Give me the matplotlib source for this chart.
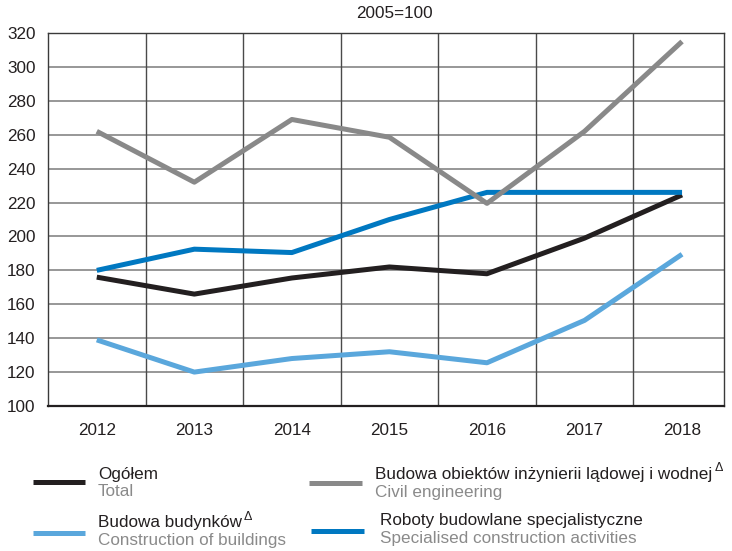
import matplotlib.pyplot as plt
from matplotlib.lines import Line2D

plt.rcParams['font.family'] = ['Liberation Sans', 'DejaVu Sans']

years = ['2012', '2013', '2014', '2015', '2016', '2017', '2018']
total = [176, 166, 175.5, 182, 178, 199, 224.5]
civil = [262, 232, 269, 258.5, 219.5, 262, 315]
buildings = [139, 120, 128, 132, 125.5, 150.5, 189.5]
specialised = [180, 192.5, 190.5, 210, 226, 226, 226]

yticks = list(range(100, 321, 20))

c_total = '#231f20'
c_civil = '#898989'
c_build = '#5aa7dc'
c_spec = '#0078c1'

FS = 12.3

fig = plt.figure(figsize=(7.32, 5.51), dpi=100)
ax = fig.add_axes([48 / 732, 1 - 406 / 551, 676 / 732, 373 / 551])

x = list(range(len(years)))
# series drawn back to front
ax.plot(x, total, color=c_total, lw=3.6, solid_capstyle='butt', zorder=3)
ax.plot(x, specialised, color=c_spec, lw=3.6, solid_capstyle='butt', zorder=3)
ax.plot(x, civil, color=c_civil, lw=3.6, solid_capstyle='butt', zorder=4)
ax.plot(x, buildings, color=c_build, lw=3.6, solid_capstyle='butt', zorder=3)

ax.set_xlim(-0.5, 6.43)
ax.set_ylim(100, 320)
ax.set_yticks(yticks)
ax.set_xticks(x)
ax.set_xticklabels(years)
ax.tick_params(axis='both', length=0, labelsize=FS, colors='#231f20')
ax.tick_params(axis='x', pad=12)
ax.tick_params(axis='y', pad=9)

# grid: horizontal at ticks, vertical between categories
for v in yticks[1:-1]:
    ax.axhline(v, color='#7a7a7a', lw=1.1, zorder=1)
for b in [i + 0.5 for i in range(6)]:
    ax.axvline(b, color='#4a4a4a', lw=1.0, zorder=1)
for s in ax.spines.values():
    s.set_color('#3a3a3a')
    s.set_linewidth(1.0)
ax.spines['bottom'].set_linewidth(1.6)
ax.spines['bottom'].set_color('#231f20')

fig.text(394 / 732, 1 - 14 / 551, '2005=100', ha='center', va='center',
         fontsize=FS, color='#231f20')

# legend built by hand
def legend_item(x0, x1, ly, tx, ty, pl, en, color, delta=False):
    fig.add_artist(Line2D([x0 / 732, x1 / 732], [1 - ly / 551, 1 - ly / 551],
                          color=color, lw=3.6, solid_capstyle='butt'))
    t = fig.text(tx / 732, 1 - ty / 551, pl, ha='left', va='center',
                 fontsize=FS, color='#231f20')
    fig.text(tx / 732, 1 - (ty + 18) / 551, en, ha='left', va='center',
             fontsize=FS, color='#8a8a8a')
    if delta:
        r = fig.canvas.get_renderer()
        bb = t.get_window_extent(renderer=r)
        fig.text((bb.x1 + 2) / 732, 1 - (ty - 6) / 551, '\u0394', ha='left',
                 va='center', fontsize=9, color='#231f20')

legend_item(33, 85, 482, 98, 474, 'Ogółem', 'Total', c_total)
legend_item(309, 362, 483, 375, 474, 'Budowa obiektów inżynierii lądowej i wodnej',
            'Civil engineering', c_civil, delta=True)
legend_item(33, 85, 533, 98, 523, 'Budowa budynków', 'Construction of buildings',
            c_build, delta=True)
legend_item(311, 364, 531, 380, 521, 'Roboty budowlane specjalistyczne',
            'Specialised construction activities', c_spec)

fig.savefig('out.png', dpi=100)
